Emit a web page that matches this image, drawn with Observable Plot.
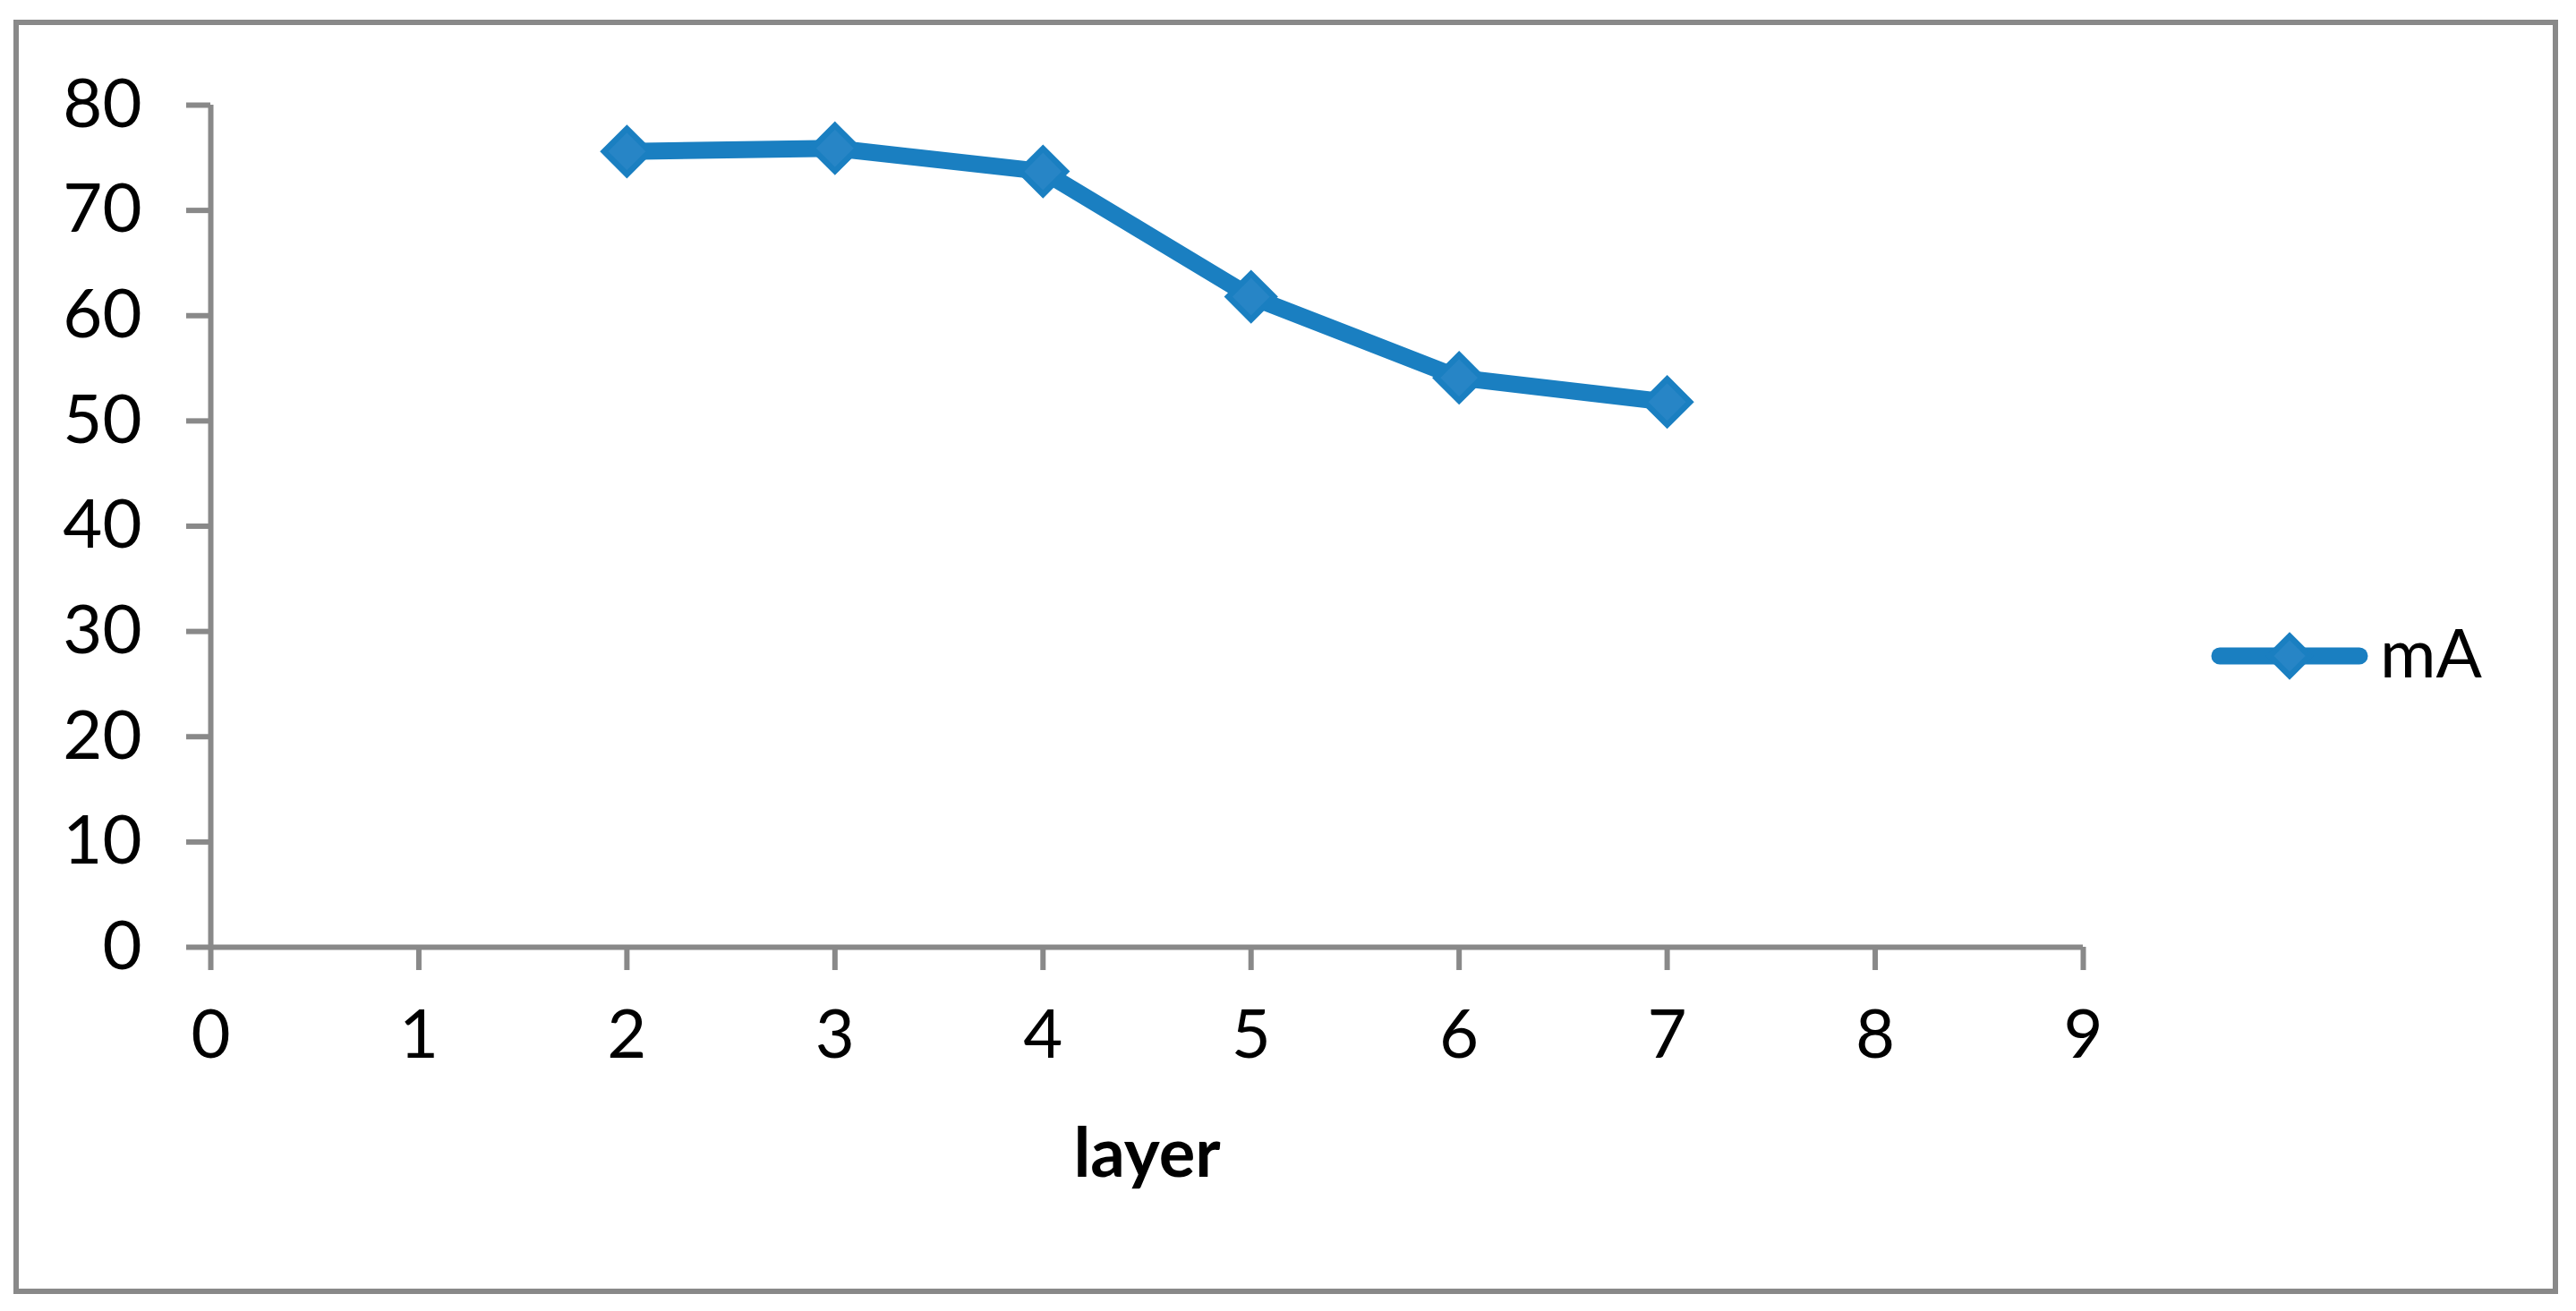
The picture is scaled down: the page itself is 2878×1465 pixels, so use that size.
<!DOCTYPE html>
<html>
<head>
<meta charset="utf-8">
<script src="https://cdn.jsdelivr.net/npm/d3@7"></script>
<script src="https://cdn.jsdelivr.net/npm/@observablehq/plot@0.6"></script>
<style>
  html, body { margin: 0; padding: 0; background: #fff; overflow: hidden; }
  svg { display: block; }
</style>
</head>
<body>
<div id="chart"></div>
<script>
const layers = [2, 3, 4, 5, 6, 7];
const mA = [75.6, 75.9, 73.7, 61.8, 54.1, 51.8];
const xTicks = [0, 1, 2, 3, 4, 5, 6, 7, 8, 9];
const yTicks = [0, 10, 20, 30, 40, 50, 60, 70, 80];
const seriesName = "mA";
const xLabel = "layer";

const data = layers.map((l, i) => ({layer: l, value: mA[i]}));

const gray = "#898989";
const blue = "#1a7fc1";
const blueFill = "#2785c6";
const W = 2878, H = 1465;
const FONT = "Lato, 'Open Sans', sans-serif";
const R = 23;

const plot = Plot.plot({
  width: W,
  height: H,
  marginLeft: 235,
  marginRight: 551,
  marginTop: 117,
  marginBottom: 407,
  style: {fontFamily: FONT, fontSize: "76px", color: "black", background: "white"},
  x: {domain: [0, 9]},
  y: {domain: [0, 80]},
  marks: [
    Plot.axisY({ticks: yTicks, tickSize: 27, tickPadding: 50, stroke: gray, strokeWidth: 6, fill: "black", fontSize: 76, label: null}),
    Plot.axisX({ticks: xTicks, tickSize: 26, tickPadding: 44, stroke: gray, strokeWidth: 6, fill: "black", fontSize: 76, label: null}),
    Plot.ruleX([0], {y1: 0, y2: 80, stroke: gray, strokeWidth: 6}),
    Plot.ruleY([0], {x1: 0, x2: 9, stroke: gray, strokeWidth: 6}),
    Plot.line(data, {x: "layer", y: "value", stroke: blue, strokeWidth: 19, strokeLinejoin: "round", strokeLinecap: "round"}),
    Plot.dot(data, {x: "layer", y: "value", symbol: "diamond2", r: R, fill: blueFill, stroke: blue, strokeWidth: 6.5}),
    Plot.text([xLabel], {frameAnchor: "bottom", dy: 256, fontSize: 76, fontWeight: "bold", fill: "black"})
  ]
});

document.getElementById("chart").appendChild(plot);

// Outer border and legend
const svg = d3.select(plot);
svg.insert("rect", ":first-child")
  .attr("x", 18).attr("y", 25).attr("width", 2837).attr("height", 1418)
  .attr("fill", "white").attr("stroke", gray).attr("stroke-width", 6);

const lg = svg.append("g");
lg.append("line")
  .attr("x1", 2480).attr("x2", 2636).attr("y1", 733).attr("y2", 733)
  .attr("stroke", blue).attr("stroke-width", 19).attr("stroke-linecap", "round");
lg.append("path")
  .attr("d", d3.symbol(d3.symbolDiamond2, Math.PI * 20 * 20)())
  .attr("transform", "translate(2558,733)")
  .attr("fill", blueFill).attr("stroke", blue).attr("stroke-width", 6.5);
lg.append("text")
  .attr("x", 2659).attr("y", 757)
  .attr("text-anchor", "start")
  .attr("font-family", FONT).attr("font-size", 76).attr("fill", "black")
  .text(seriesName);
</script>
</body>
</html>
